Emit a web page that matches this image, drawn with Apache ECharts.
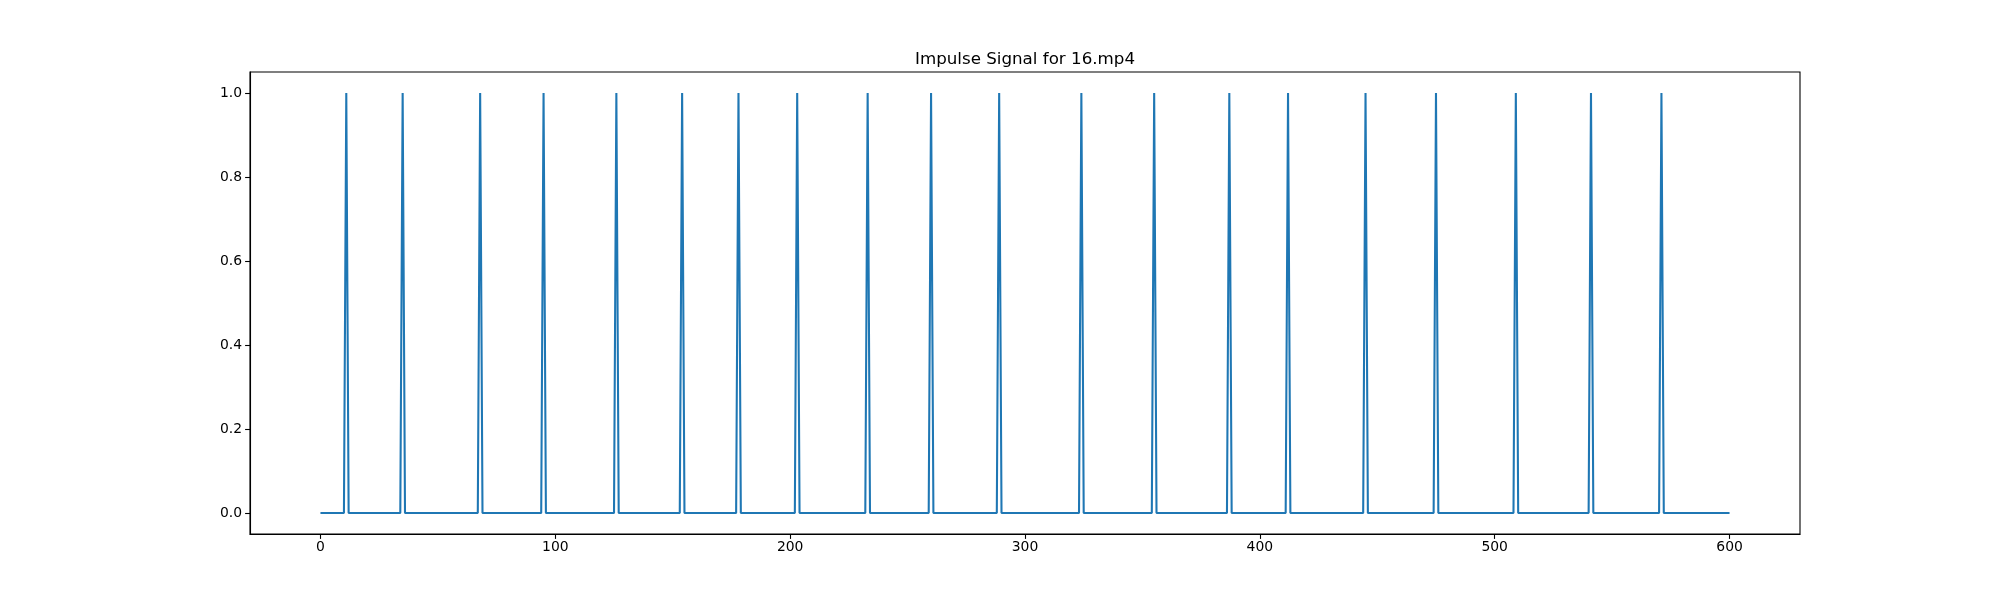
<!DOCTYPE html>
<html>
<head>
<meta charset="utf-8">
<script src="https://cdn.jsdelivr.net/npm/echarts@6/dist/echarts.min.js"></script>
<style>
  html, body { margin: 0; padding: 0; background: #fff; }
  #chart { width: 2000px; height: 600px; }
</style>
</head>
<body>
<div id="chart"></div>
<script>
// ---- Data ----
const chartTitle = 'Impulse Signal for 16.mp4';
const lastFrame = 600;
const impulseFrames = [11, 35, 68, 95, 126, 154, 178, 203, 233, 260, 289, 324, 355, 387, 412, 445, 475, 509, 541, 571];
const xTickValues = [0, 100, 200, 300, 400, 500, 600];
const yTickValues = [0, 0.2, 0.4, 0.6, 0.8, 1.0];

// Build the signal from the impulse frame list
const impulseSet = new Set(impulseFrames);
const signal = [];
for (let i = 0; i <= lastFrame; i++) {
  signal.push([i, impulseSet.has(i) ? 1 : 0]);
}

const chart = echarts.init(document.getElementById('chart'), null, { renderer: 'canvas' });
const font = 'DejaVu Sans';
chart.setOption({
  animation: false,
  backgroundColor: '#ffffff',
  title: {
    text: chartTitle,
    left: 1020,
    top: 46,
    textAlign: 'center',
    textStyle: { fontFamily: font, fontSize: 16.7, fontWeight: 'normal', color: '#000' }
  },
  grid: {
    left: 250, right: 200, top: 72, bottom: 66,
    show: true, borderColor: '#000', borderWidth: 1.1, backgroundColor: 'transparent'
  },
  xAxis: {
    type: 'value',
    min: -30, max: 630,
    axisLine: { show: true, onZero: false, lineStyle: { color: '#000', width: 1.1 } },
    axisTick: { show: true, length: 4.9, customValues: xTickValues, lineStyle: { color: '#000', width: 1.1 } },
    axisLabel: { customValues: xTickValues, fontFamily: font, fontSize: 13.9, color: '#000', margin: 6,
      formatter: v => String(Math.round(v)) },
    splitLine: { show: false }
  },
  yAxis: {
    type: 'value',
    min: -0.05, max: 1.05,
    axisLine: { show: true, onZero: false, lineStyle: { color: '#000', width: 1.1 } },
    axisTick: { show: true, length: 4.9, customValues: yTickValues, lineStyle: { color: '#000', width: 1.1 } },
    axisLabel: { customValues: yTickValues, fontFamily: font, fontSize: 13.9, color: '#000', margin: 8,
      formatter: v => v.toFixed(1) },
    splitLine: { show: false }
  },
  series: [{
    type: 'line',
    data: signal,
    symbol: 'none',
    lineStyle: { color: '#1f77b4', width: 2.08 },
    itemStyle: { color: '#1f77b4' }
  }]
});
</script>
</body>
</html>
